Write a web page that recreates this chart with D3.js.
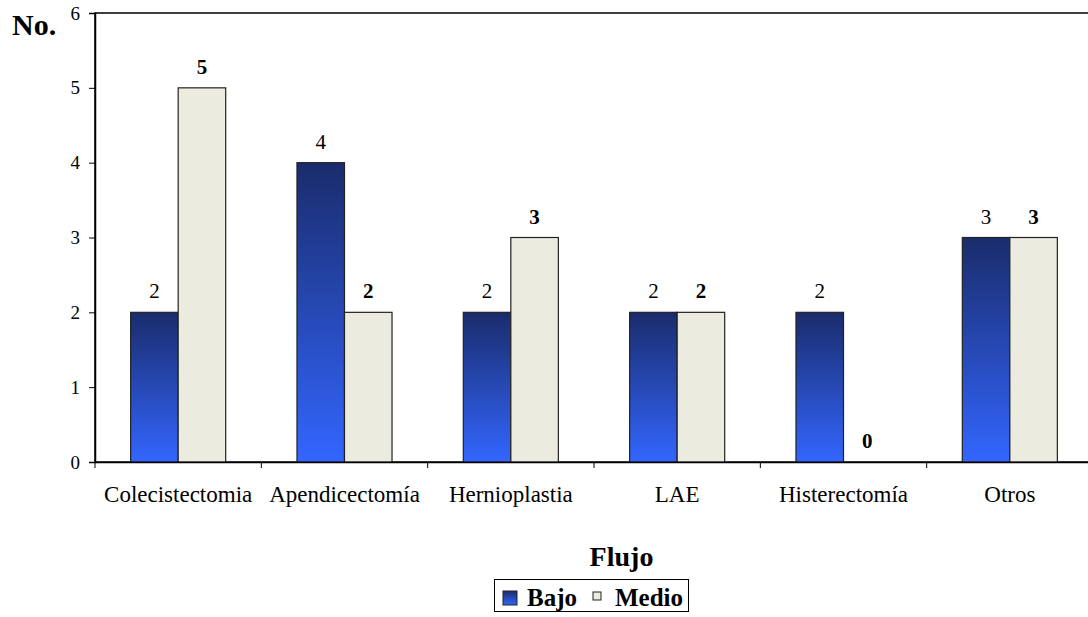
<!DOCTYPE html>
<html><head><meta charset="utf-8">
<script src="https://cdn.jsdelivr.net/npm/d3@7"></script>
<style>body{margin:0;background:#fff}svg{display:block}text{font-family:"Liberation Serif","Times New Roman",serif}</style>
</head><body><svg id="c" width="1088" height="617"></svg>
<script>
const categories = ["Colecistectomia","Apendicectomía","Hernioplastia","LAE","Histerectomía","Otros"];
const seriesNames = ["Bajo","Medio"];
const bajo = [2,4,2,2,2,3];
const medio = [5,2,3,2,0,3];
const yTicks = [0,1,2,3,4,5,6];

const svg = d3.select("#c");
const mLeft = 95, mRight = 1093, mTop = 13, mBottom = 462;
const x = d3.scaleBand().domain(categories).range([mLeft, mRight]).paddingInner(0).paddingOuter(0);
const y = d3.scaleLinear().domain([0,6]).range([mBottom, mTop]);
const step = x.bandwidth();
const bw = step/3.5;
const x1 = d3.scaleBand().domain(seriesNames).range([0, 2*bw]);

const defs = svg.append("defs");
const g1 = defs.append("linearGradient").attr("id","gb").attr("x1",0).attr("y1",0).attr("x2",0).attr("y2",1);
g1.append("stop").attr("offset","0%").attr("stop-color","#1a2c6c");
g1.append("stop").attr("offset","100%").attr("stop-color","#3366ff");

// plot border
svg.append("rect").attr("x",mLeft).attr("y",mTop).attr("width",mRight-mLeft).attr("height",mBottom-mTop)
  .attr("fill","none").attr("stroke","#000").attr("stroke-width",1.5);

const data = categories.map((c,i)=>({c, vals:[{s:"Bajo",v:bajo[i]},{s:"Medio",v:medio[i]}]}));
const grp = svg.append("g").selectAll("g").data(data).join("g")
  .attr("transform", d=>`translate(${x(d.c)+ (step-2*bw)/2},0)`);
grp.selectAll("rect").data(d=>d.vals.filter(e=>e.v>0)).join("rect")
  .attr("x", d=>x1(d.s)).attr("width", bw)
  .attr("y", d=>y(d.v)).attr("height", d=>y(0)-y(d.v))
  .attr("fill", d=>d.s==="Bajo"?"url(#gb)":"#ecebe0")
  .attr("stroke", "#222").attr("stroke-width",1.2);
grp.selectAll("text").data(d=>d.vals).join("text")
  .attr("x", d=>x1(d.s)+bw/2).attr("y", d=>y(d.v)-14)
  .attr("text-anchor","middle").attr("font-size",21)
  .attr("font-weight", d=>d.s==="Medio"?"bold":"normal")
  .text(d=>d.v);

// axes
const ya = svg.append("g").attr("transform",`translate(${mLeft},0)`)
  .call(d3.axisLeft(y).tickValues(yTicks).tickSize(6).tickPadding(9).tickFormat(d3.format("d")));
ya.select(".domain").attr("stroke","#000").attr("stroke-width",1.5);
ya.selectAll("text").attr("font-size",19).attr("font-family","Liberation Serif").attr("fill","#000");

const xa = svg.append("g").attr("transform",`translate(0,${mBottom})`)
  .call(d3.axisBottom(x).tickSize(0).tickPadding(24));
xa.select(".domain").attr("stroke","#000").attr("stroke-width",1.5);
xa.selectAll("text").attr("font-size",23).attr("font-family","Liberation Serif").attr("fill","#000")
  .attr("dy",null).attr("y",40);
svg.append("g").selectAll("line").data(categories).join("line")
  .attr("x1",d=>x(d)).attr("x2",d=>x(d)).attr("y1",mBottom).attr("y2",mBottom+6).attr("stroke","#000");

svg.append("text").attr("x",12).attr("y",35).attr("font-size",30).attr("font-weight","bold").text("No.");
svg.append("text").attr("x",621.5).attr("y",566).attr("text-anchor","middle").attr("font-size",28).attr("font-weight","bold").text("Flujo");

// legend
const lg = svg.append("g");
lg.append("rect").attr("x",494.5).attr("y",579.5).attr("width",194).attr("height",32).attr("fill","#fff").attr("stroke","#000");
lg.append("rect").attr("x",503).attr("y",591).attr("width",14).attr("height",14).attr("fill","url(#gb)").attr("stroke","#222");
lg.append("text").attr("x",527).attr("y",606).attr("font-size",25).attr("font-weight","bold").text(seriesNames[0]);
lg.append("rect").attr("x",593).attr("y",592).attr("width",8).attr("height",8).attr("fill","#ecebe0").attr("stroke","#222");
lg.append("text").attr("x",615).attr("y",606).attr("font-size",25).attr("font-weight","bold").text(seriesNames[1]);
</script></body></html>
